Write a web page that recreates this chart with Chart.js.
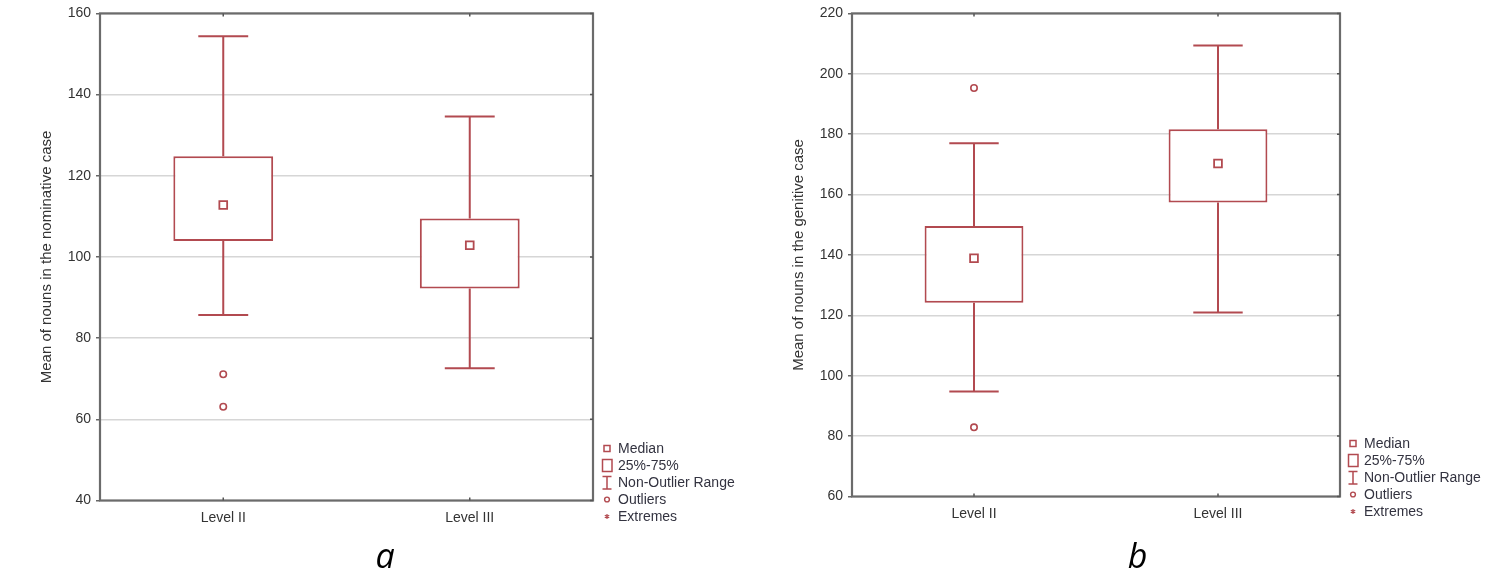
<!DOCTYPE html>
<html>
<head>
<meta charset="utf-8">
<script src="https://cdn.jsdelivr.net/npm/chart.js@4.4.1/dist/chart.umd.min.js"></script>
<style>
html,body{margin:0;padding:0;background:#fff;width:1502px;height:581px;overflow:hidden;}
.wrap{position:absolute;top:0;height:540px;}
#wa{left:0;width:752px;}
#wb{left:752px;width:750px;}
.legend{position:absolute;font:14px 'Liberation Sans',Arial,sans-serif;color:#333340;}
.legend .row{display:flex;align-items:center;height:17px;white-space:nowrap;}
.legend svg{flex:none;width:12px;height:17px;margin-right:5px;}
.panel{position:absolute;font:italic 34px 'Open Sans',sans-serif;color:#000;width:60px;text-align:center;line-height:34px;}
</style>
</head>
<body>
<div class="wrap" id="wa"><canvas id="ca" width="752" height="540"></canvas></div>
<div class="wrap" id="wb"><canvas id="cb" width="750" height="540"></canvas></div>
<div class="legend" id="la" style="left:601px;top:439.5px;"></div>
<div class="legend" id="lb" style="left:1347px;top:434.5px;"></div>
<div class="panel" style="left:355px;top:538px;">a</div>
<div class="panel" style="left:1107.5px;top:538px;">b</div>
<script>
// ---------- data ----------
const categories = ['Level II', 'Level III'];

// (a) nominative case
const nomMin    = [85.7, 72.6];
const nomQ1     = [103.9, 92.2];
const nomMedian = [112.8, 102.9];
const nomQ3     = [124.8, 109.5];
const nomMax    = [154.4, 134.6];
const nomOutlierCats = ['Level II', 'Level II'];
const nomOutlierVals = [71.1, 63.1];
const nomTicks = [40, 60, 80, 100, 120, 140, 160];

// (b) genitive case
const genMin    = [94.8, 120.9];
const genQ1     = [124.2, 157.4];
const genMedian = [138.9, 170.3];
const genQ3     = [149.6, 181.6];
const genMax    = [177.0, 209.4];
const genOutlierCats = ['Level II', 'Level II'];
const genOutlierVals = [195.3, 82.9];
const genTicks = [60, 80, 100, 120, 140, 160, 180, 200, 220];

const legendLabels = ['Median', '25%-75%', 'Non-Outlier Range', 'Outliers', 'Extremes'];

// ---------- style ----------
const RED = '#b24a50';
const TXT = '#333';
const FONT = "'Liberation Sans', Arial, sans-serif";
const LW = 2;

function makeWhiskers(mins, q1s, q3s, maxs) {
  return {
    id: 'whiskers',
    beforeDatasetsDraw(chart) {
      const {ctx, scales: {x, y}} = chart;
      const meta = chart.getDatasetMeta(0);
      ctx.save();
      ctx.strokeStyle = RED;
      ctx.lineWidth = LW;
      meta.data.forEach((bar, i) => {
        const cx = x.getPixelForValue(i);
        const half = bar.width * 0.25;
        const yMin = y.getPixelForValue(mins[i]);
        const yQ1 = y.getPixelForValue(q1s[i]);
        const yQ3 = y.getPixelForValue(q3s[i]);
        const yMax = y.getPixelForValue(maxs[i]);
        ctx.beginPath();
        ctx.moveTo(cx, yQ3); ctx.lineTo(cx, yMax);
        ctx.moveTo(cx - half, yMax); ctx.lineTo(cx + half, yMax);
        ctx.moveTo(cx, yQ1); ctx.lineTo(cx, yMin);
        ctx.moveTo(cx - half, yMin); ctx.lineTo(cx + half, yMin);
        ctx.stroke();
      });
      ctx.restore();
    }
  };
}

const framePlugin = {
  id: 'frame',
  afterDraw(chart) {
    const {ctx, chartArea: a, scales: {x, y}} = chart;
    ctx.save();
    ctx.strokeStyle = '#6b6b6b';
    ctx.lineWidth = 2.2;
    ctx.strokeRect(a.left, a.top, a.right - a.left, a.bottom - a.top);
    ctx.lineWidth = 1.5;
    ctx.strokeStyle = '#555';
    ctx.beginPath();
    y.ticks.forEach(t => {
      const py = y.getPixelForValue(t.value);
      ctx.moveTo(a.right, py); ctx.lineTo(a.right - 3, py);
    });
    x.ticks.forEach((t, i) => {
      const px = x.getPixelForValue(i);
      ctx.moveTo(px, a.top); ctx.lineTo(px, a.top + 3);
      ctx.moveTo(px, a.bottom); ctx.lineTo(px, a.bottom - 3);
    });
    ctx.stroke();
    ctx.restore();
  }
};

function buildChart(canvasId, cfg) {
  const boxes = cfg.q1.map((v, i) => [v, cfg.q3[i]]);
  const outliers = cfg.outCats.map((c, i) => ({x: c, y: cfg.outVals[i]}));
  return new Chart(document.getElementById(canvasId), {
    type: 'bar',
    data: {
      labels: categories,
      datasets: [
        {
          type: 'bar',
          label: '25%-75%',
          data: boxes,
          backgroundColor: '#fff',
          borderColor: RED,
          borderWidth: LW,
          borderSkipped: false,
          barPercentage: 0.405,
          categoryPercentage: 1.0,
          order: 3
        },
        {
          type: 'line',
          label: 'Median',
          data: cfg.median,
          showLine: false,
          pointStyle: 'rect',
          pointRadius: 5.5,
          pointBorderWidth: 1.8,
          pointBorderColor: RED,
          pointBackgroundColor: '#fff',
          order: 1
        },
        {
          type: 'line',
          label: 'Outliers',
          data: outliers,
          showLine: false,
          pointStyle: 'circle',
          pointRadius: 3.2,
          pointBorderWidth: 1.6,
          pointBorderColor: RED,
          pointBackgroundColor: '#fff',
          order: 2
        }
      ]
    },
    options: {
      responsive: false,
      animation: false,
      layout: {padding: {left: 0, right: cfg.padRight, top: cfg.padTop, bottom: 0}},
      plugins: {legend: {display: false}, tooltip: {enabled: false}},
      scales: {
        x: {
          type: 'category',
          offset: true,
          grid: {display: false, drawTicks: false},
          border: {display: false},
          ticks: {padding: 9, color: TXT, font: {family: FONT, size: 14}},
          afterFit: s => { s.height = cfg.xHeight; }
        },
        y: {
          min: cfg.ticks[0],
          max: cfg.ticks[cfg.ticks.length - 1],
          afterBuildTicks: s => { s.ticks = cfg.ticks.map(v => ({value: v})); },
          afterFit: s => { s.width = 100; },
          grid: {color: '#d6d6d6', lineWidth: 1.5, tickLength: 4, tickColor: '#666', drawTicks: true},
          border: {display: false},
          ticks: {padding: 5, color: TXT, font: {family: FONT, size: 14}},
          title: {
            display: true,
            text: cfg.title,
            color: TXT,
            font: {family: FONT, size: 15},
            padding: {top: 38, bottom: 0}
          }
        }
      }
    },
    plugins: [makeWhiskers(cfg.min, cfg.q1, cfg.q3, cfg.max), framePlugin]
  });
}

buildChart('ca', {
  min: nomMin, q1: nomQ1, median: nomMedian, q3: nomQ3, max: nomMax,
  outCats: nomOutlierCats, outVals: nomOutlierVals, ticks: nomTicks,
  title: 'Mean of nouns in the nominative case',
  padRight: 159, padTop: 11.5, xHeight: 39.5
});
buildChart('cb', {
  min: genMin, q1: genQ1, median: genMedian, q3: genQ3, max: genMax,
  outCats: genOutlierCats, outVals: genOutlierVals, ticks: genTicks,
  title: 'Mean of nouns in the genitive case',
  padRight: 162, padTop: 12, xHeight: 43.5
});

// ---------- legends ----------
const icons = [
  '<rect x="3" y="5.5" width="6" height="6" fill="#fff" stroke="' + RED + '" stroke-width="1.5"/>',
  '<rect x="1.5" y="2.5" width="9.5" height="12" fill="#fff" stroke="' + RED + '" stroke-width="1.5"/>',
  '<path d="M1.5 2.5H10.5M6 2.5V15M1.5 15H10.5" fill="none" stroke="' + RED + '" stroke-width="1.5"/>',
  '<circle cx="6" cy="8.5" r="2.4" fill="#fff" stroke="' + RED + '" stroke-width="1.4"/>',
  '<path d="M6 6V11M3.8 7.2L8.2 9.8M3.8 9.8L8.2 7.2" fill="none" stroke="' + RED + '" stroke-width="1.2"/>'
];
['la', 'lb'].forEach(id => {
  const el = document.getElementById(id);
  el.innerHTML = legendLabels.map((t, i) =>
    '<div class="row"><svg viewBox="0 0 12 17">' + icons[i] + '</svg><span>' + t + '</span></div>'
  ).join('');
});
</script>
</body>
</html>
